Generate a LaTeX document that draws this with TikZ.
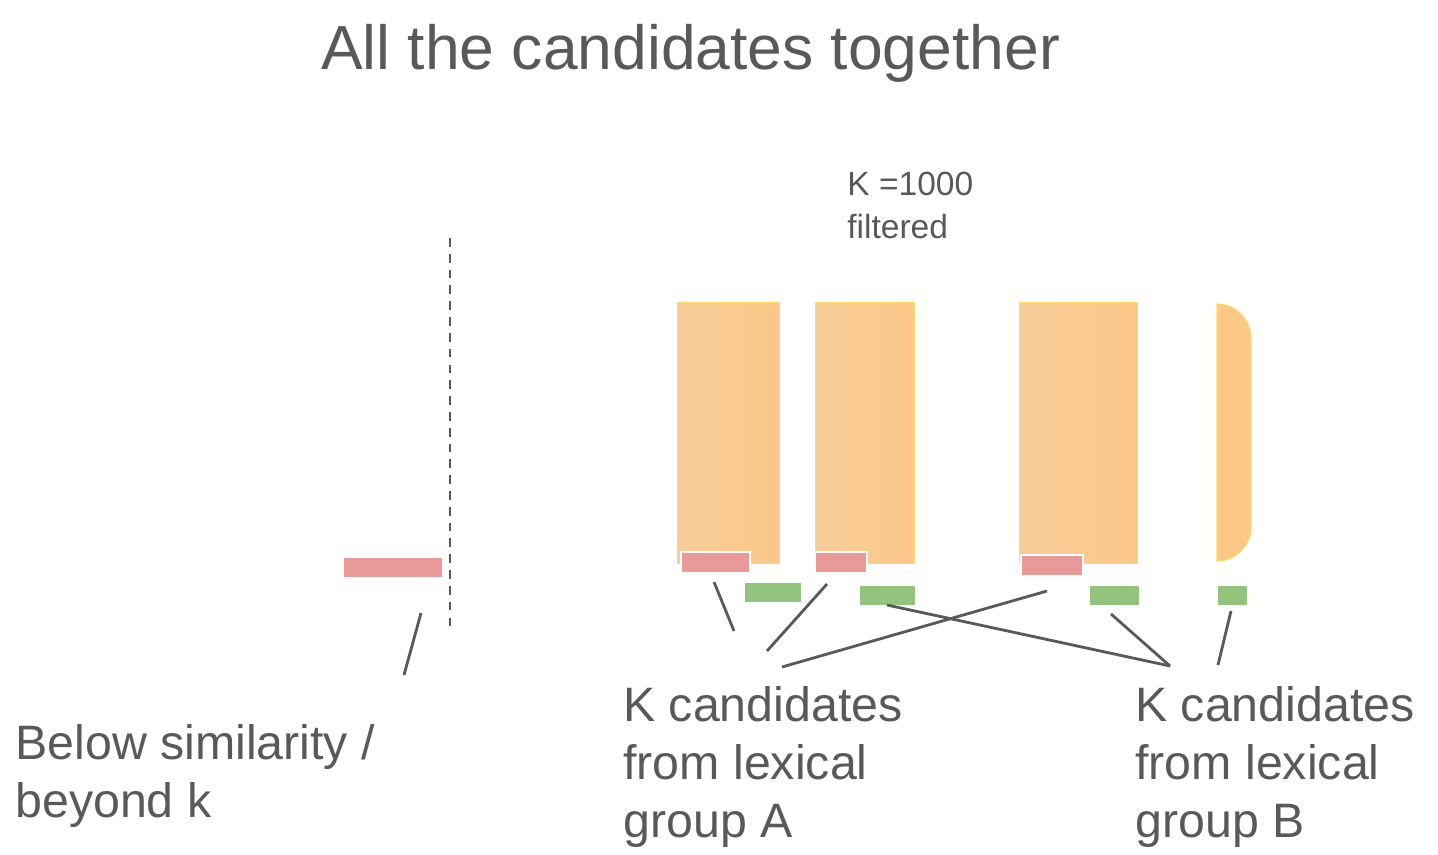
\documentclass[tikz,border=0pt]{standalone}
\usepackage{fontspec}
\setmainfont{Liberation Sans}
\usetikzlibrary{positioning}
\definecolor{textgray}{RGB}{89,89,89}
\definecolor{blockorange}{RGB}{250,202,146}
\definecolor{blockleft}{RGB}{248,204,154}
\definecolor{blockright}{RGB}{252,200,136}
\definecolor{blockedge}{RGB}{255,217,102}
\definecolor{barred}{RGB}{234,153,153}
\definecolor{bargreen}{RGB}{147,196,125}

\begin{document}
\begin{tikzpicture}[x=0.02cm,y=-0.02cm]
        %
        % `block' is used for the orange candidate lists.
        % `redbar' and `greenbar' mark the lexical groups.
        % `pointer' is used for the label lines.
        \tikzstyle{block} = [left color=blockleft,right color=blockright,draw=blockedge,line width=0.6pt,inner sep=0pt,anchor=north west]
        \tikzstyle{redbar} = [fill=barred,draw=white,line width=1.2pt,inner sep=0pt,minimum height=0.42cm,anchor=north west]
        \tikzstyle{greenbar} = [fill=bargreen,draw=white,line width=0.6pt,inner sep=0pt,minimum height=0.4cm,anchor=north west]
        \tikzstyle{pointer} = [draw=textgray,line width=1.6pt]
        \tikzstyle{label} = [text=textgray,inner sep=0pt,anchor=north west,align=left,font=\fontsize{27.5}{33}\selectfont]
        %
        \useasboundingbox (0,0) rectangle (1438,855);
        %
        % Title
        \node[text=textgray,inner sep=0pt,anchor=north west,font=\fontsize{35.5}{40}\selectfont] (title) at (321,24) {All the candidates together};
        \node[text=textgray,inner sep=0pt,anchor=north west,align=left,font=\fontsize{19.1}{24.4}\selectfont] (kfilter) at (847,172) {K =1000\\filtered};
        %
        % Cut-off line
        \coordinate (cuttop) at (450,238);
        \coordinate (cutbot) at (450,630);
        \draw[textgray,line width=1.2pt,dash pattern=on 5pt off 4pt] (cuttop) -- (cutbot);
        %
        % Blocks
        \node[block,minimum width=2.04cm,minimum height=5.22cm] (block1) at (677,302) {};
        \node[block,minimum width=1.98cm,minimum height=5.22cm] (block2) at (815,302) {};
        \node[block,minimum width=2.36cm,minimum height=5.22cm] (block3) at (1019,302) {};
        \draw[fill=blockright,draw=blockedge,line width=0.6pt] (1217,304) arc (-90:0:34) -- (1251,527) arc (0:90:34) -- cycle;
        %
        % Red bars
        \node[redbar,minimum width=2cm] (red0) at (342,556) {};
        \node[redbar,minimum width=1.38cm] (red1) at (680,551) {};
        \node[redbar,minimum width=1.04cm] (red2) at (814,551) {};
        \node[redbar,minimum width=1.24cm] (red3) at (1020,554) {};
        %
        % Green bars
        \node[greenbar,minimum width=1.14cm] (green1) at (744,582) {};
        \node[greenbar,minimum width=1.12cm] (green2) at (859,585) {};
        \node[greenbar,minimum width=1cm] (green3) at (1089,585) {};
        \node[greenbar,minimum width=0.6cm] (green4) at (1217,585) {};
        %
        % Labels
        \node[label] (below) at (15,724) {Below similarity /\\beyond k};
        \node[label] (groupa) at (623,686) {K candidates\\from lexical\\group A};
        \node[label] (groupb) at (1135,686) {K candidates\\from lexical\\group B};
        %
        % Pointer ends
        \coordinate (p0) at (421,613);
        \coordinate (q0) at (404,675);
        \coordinate (p1) at (714,582);
        \coordinate (q1) at (734,631);
        \coordinate (p2) at (827,584);
        \coordinate (q2) at (767,651);
        \coordinate (p3) at (1047,591);
        \coordinate (q3) at (782,667);
        \coordinate (p4) at (887,605);
        \coordinate (p5) at (1111,614);
        \coordinate (qb) at (1170,666);
        \coordinate (p6) at (1231,611);
        \coordinate (q6) at (1218,665);
        %
        \draw[pointer] (p0) -- (q0);
        \draw[pointer] (p1) -- (q1);
        \draw[pointer] (p2) -- (q2);
        \draw[pointer] (p3) -- (q3);
        \draw[pointer] (p4) -- (qb);
        \draw[pointer] (p5) -- (qb);
        \draw[pointer] (p6) -- (q6);
        %
\end{tikzpicture}
\end{document}
